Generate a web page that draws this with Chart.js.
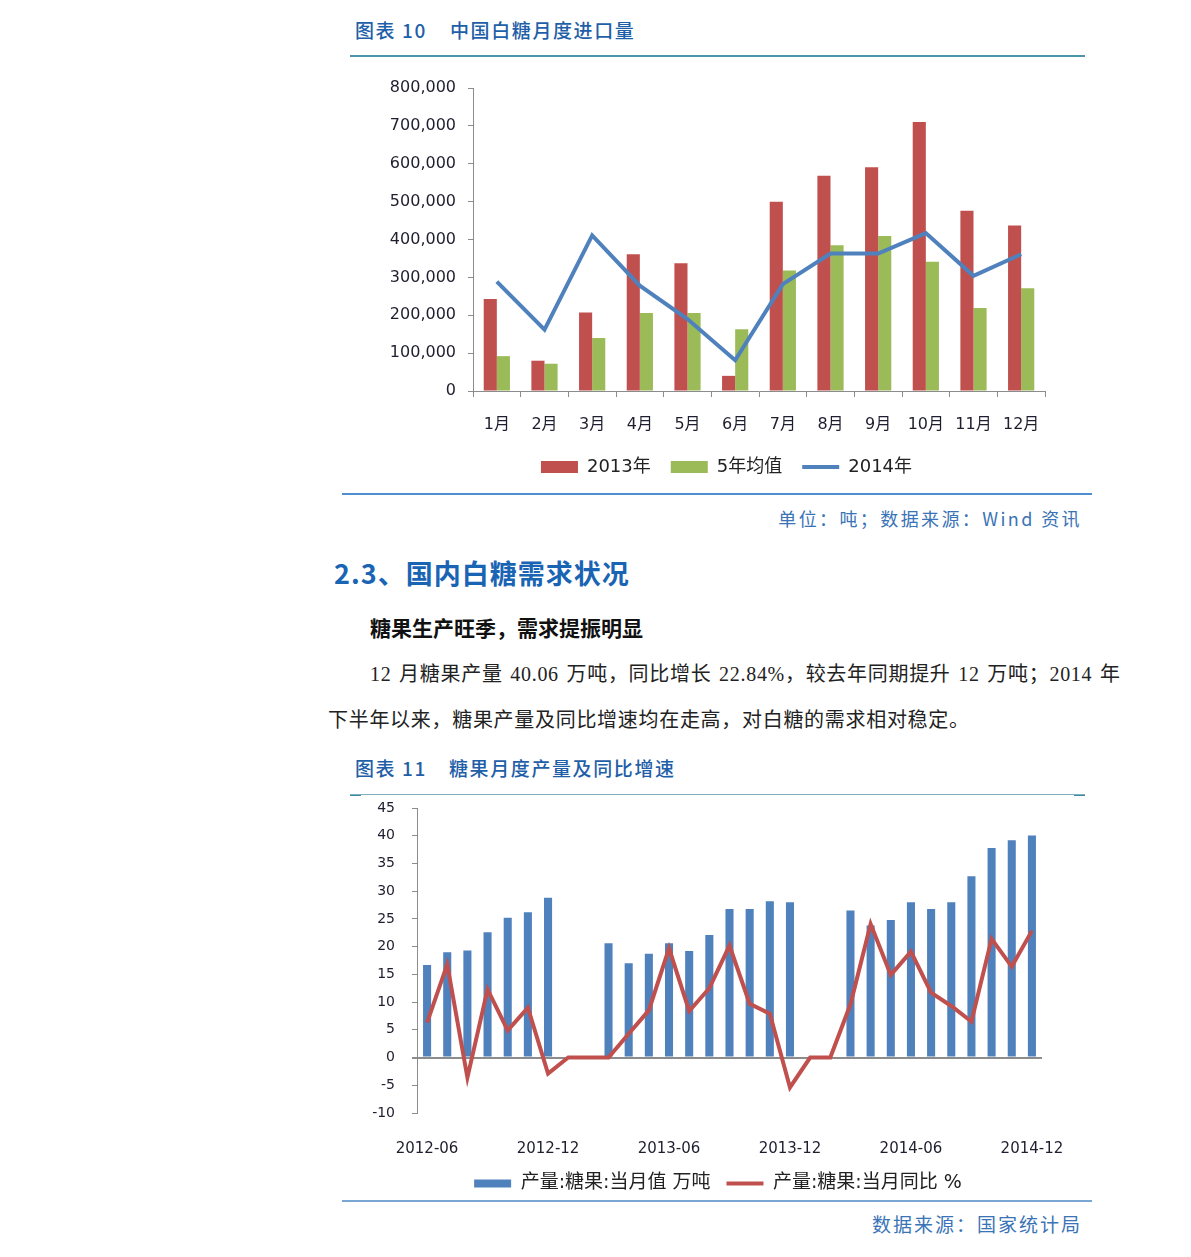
<!DOCTYPE html>
<html lang="zh">
<head>
<meta charset="utf-8">
<title>白糖进口与糖果产量</title>
<script src="https://cdn.jsdelivr.net/npm/chart.js@4.4.1/dist/chart.umd.min.js"></script>
<style>
  body {
    margin: 0;
    width: 1191px;
    height: 1257px;
    position: relative;
    overflow: hidden;
    background: #fff;
    font-family: "Noto Sans CJK SC", sans-serif;
  }
  .abs { position: absolute; white-space: nowrap; }
  .cap { color: #1f5fa8; font-size: 19px; font-weight: 500; letter-spacing: 1.6px; line-height: 24px; }
  .src { color: #3a74b6; font-size: 18px; letter-spacing: 2.4px; line-height: 22px; text-align: right; }
  .rule { position: absolute; height: 0; }
  .para { font-family: "Liberation Serif", "Noto Sans CJK SC", serif; font-size: 20px; color: #222; line-height: 26px; letter-spacing: 0.7px; }
</style>
</head>
<body>

<div class="abs cap" style="left:355px; top:18px;">图表 10</div>
<div class="abs cap" style="left:450px; top:18px;">中国白糖月度进口量</div>
<div class="rule" style="left:350px; width:735px; top:55px; border-top:2px solid #4b95ab;"></div>

<div class="abs" style="left:360px; top:70px; width:700px; height:420px;">
  <canvas id="chartImport"></canvas>
</div>

<div class="rule" style="left:342px; width:750px; top:493px; border-top:2px solid #4f8fcf;"></div>
<div class="abs src" style="right:109px; top:507px;">单位：吨；数据来源：Wind 资讯</div>

<div class="abs" style="left:334px; top:555px; font-size:27px; font-weight:700; color:#1a64b4; line-height:36px; letter-spacing:1px;">2.3、国内白糖需求状况</div>
<div class="abs" style="left:370px; top:613px; font-size:21px; font-weight:700; color:#111; line-height:28px;">糖果生产旺季，需求提振明显</div>
<div class="abs para" style="left:370px; top:661px; word-spacing:2px;">12 月糖果产量 40.06 万吨，同比增长 22.84%，较去年同期提升 12 万吨；2014 年</div>
<div class="abs para" style="left:328px; top:707px;">下半年以来，糖果产量及同比增速均在走高，对白糖的需求相对稳定。</div>

<div class="abs cap" style="left:355px; top:756px;">图表 11</div>
<div class="abs cap" style="left:449px; top:756px;">糖果月度产量及同比增速</div>
<div class="rule" style="left:350px; width:735px; top:794px; border-top:1px solid #7fb0c0;"></div>
<div class="rule" style="left:350px; width:11px; top:795px; border-top:1px solid #3d8aa0;"></div>
<div class="rule" style="left:1074px; width:11px; top:795px; border-top:1px solid #3d8aa0;"></div>

<div class="abs" style="left:360px; top:795px; width:717px; height:410px;">
  <canvas id="chartCandy"></canvas>
</div>

<div class="rule" style="left:342px; width:750px; top:1200px; border-top:2px solid #7aa6d6;"></div>
<div class="abs src" style="right:109px; top:1213px; font-size:19px; letter-spacing:2px;">数据来源：国家统计局</div>

<script>
/* chart 10: 中国白糖月度进口量 (吨) */
const importMonths = ["1月", "2月", "3月", "4月", "5月", "6月", "7月", "8月", "9月", "10月", "11月", "12月"];
const import2013 = [243000, 80000, 207000, 361000, 337000, 40000, 500000, 568000, 591000, 710000, 476000, 437000];
const import5yAvg = [92000, 72000, 140000, 206000, 206000, 163000, 318000, 385000, 409000, 341000, 219000, 271000];
const import2014 = [289000, 162000, 411000, 278000, 190000, 81000, 282000, 363000, 363000, 417000, 304000, 361000];

/* chart 11: 糖果月度产量 (万吨) 及同比 (%) */
const candyMonths = [
  "2012-06", "2012-07", "2012-08", "2012-09", "2012-10", "2012-11", "2012-12",
  "2013-01", "2013-02", "2013-03", "2013-04", "2013-05", "2013-06", "2013-07",
  "2013-08", "2013-09", "2013-10", "2013-11", "2013-12", "2014-01", "2014-02",
  "2014-03", "2014-04", "2014-05", "2014-06", "2014-07", "2014-08", "2014-09",
  "2014-10", "2014-11", "2014-12"
];
const candyOutput = [
  16.7, 19.0, 19.3, 22.6, 25.2, 26.2, 28.8,
  null, null, 20.6, 17.0, 18.7, 20.6, 19.2,
  22.1, 26.8, 26.8, 28.2, 28.0, null, null,
  26.5, 23.8, 24.8, 28.0, 26.8, 28.0, 32.7,
  37.8, 39.2, 40.06
];
const candyYoY = [
  6.3, 16.8, -3.6, 12.3, 4.9, 9.0, -2.9,
  0, 0, 0, 4.3, 8.5, 19.7, 8.4,
  12.5, 20.2, 9.7, 7.9, -5.4, 0, 0,
  9.6, 24.1, 14.9, 19.1, 11.7, 9.3, 6.5,
  21.4, 16.4, 22.84
];

const RED = "#c0504d";
const GREEN = "#9bbb59";
const BLUE = "#4f81bd";
const AXIS = "#8c8c8c";
const TICK_TEXT = "#1e1e2e";
const FONT = '"DejaVu Sans", "Noto Sans CJK SC", sans-serif';

/* no label overhang padding, the layout padding decides the plot edges */
function noOverhang(s) {
  s.paddingLeft = 0;
  s.paddingRight = 0;
  s.paddingTop = 0;
  s.paddingBottom = 0;
}

/* move the bottom legend sideways (the original legend is not centred on the canvas) */
const legendShift = {
  id: "legendShift",
  afterLayout(chart, args, opts) {
    const lg = chart.legend;
    if (!lg || !opts.dx) return;
    lg.left += opts.dx;
    lg.right += opts.dx;
  },
};

function drawImportChart() {
  const ctx = document.getElementById("chartImport");
  new Chart(ctx, {
    data: {
      labels: importMonths,
      datasets: [
        { type: "bar", label: "2013年", data: import2013, backgroundColor: RED, order: 2, pointStyle: "rect" },
        { type: "bar", label: "5年均值", data: import5yAvg, backgroundColor: GREEN, order: 2, pointStyle: "rect" },
        {
          type: "line", label: "2014年", data: import2014,
          borderColor: BLUE, backgroundColor: BLUE, borderWidth: 4,
          pointRadius: 0, tension: 0, order: 1, pointStyle: "line",
        },
      ],
    },
    plugins: [legendShift],
    options: {
      responsive: true,
      maintainAspectRatio: false,
      animation: false,
      layout: { padding: { top: 18, right: 15, bottom: 4, left: 0 } },
      datasets: { bar: { categoryPercentage: 0.55, barPercentage: 1.0 } },
      scales: {
        x: {
          grid: { display: true, offset: true, drawOnChartArea: false, tickLength: 6, color: AXIS },
          border: { color: AXIS },
          ticks: { color: TICK_TEXT, font: { family: FONT, size: 16 }, padding: 18, maxRotation: 0 },
          afterFit: (s) => { s.height = 47; noOverhang(s); },
        },
        y: {
          min: 0, max: 800000,
          ticks: {
            stepSize: 100000, color: TICK_TEXT, padding: 12,
            font: { family: FONT, size: 16 },
            callback: (v) => v.toLocaleString("en-US"),
          },
          grid: { drawOnChartArea: false, tickLength: 5, color: AXIS },
          border: { color: AXIS },
          afterFit: (s) => { s.width = 113; noOverhang(s); },
        },
      },
      plugins: {
        tooltip: { enabled: false },
        legendShift: { dx: 24 },
        legend: {
          position: "bottom",
          labels: {
            usePointStyle: true, pointStyleWidth: 37, boxHeight: 12,
            color: "#222", padding: 20,
            font: { family: FONT, size: 18 },
            sort: (a, b) => a.datasetIndex - b.datasetIndex,
          },
        },
      },
    },
  });
}

function drawCandyChart() {
  const ctx = document.getElementById("chartCandy");
  new Chart(ctx, {
    data: {
      labels: candyMonths,
      datasets: [
        {
          type: "bar", label: "产量:糖果:当月值 万吨", data: candyOutput,
          backgroundColor: BLUE, order: 2, pointStyle: "rect",
          categoryPercentage: 0.8, barPercentage: 0.5,
        },
        {
          type: "line", label: "产量:糖果:当月同比 %", data: candyYoY,
          borderColor: RED, backgroundColor: RED, borderWidth: 4,
          pointRadius: 0, tension: 0, order: 1, pointStyle: "line",
        },
      ],
    },
    plugins: [legendShift],
    options: {
      responsive: true,
      maintainAspectRatio: false,
      animation: false,
      layout: { padding: { top: 13, right: 35, bottom: 2, left: 0 } },
      scales: {
        x: {
          grid: { display: false, drawTicks: false },
          border: { display: false },
          ticks: {
            autoSkip: false, maxRotation: 0, color: TICK_TEXT, padding: 27,
            font: { family: FONT, size: 15 },
            callback: (v, i) => (i % 6 === 0 ? candyMonths[i] : null),
          },
          afterFit: (s) => { s.height = 45; noOverhang(s); },
        },
        y: {
          min: -10, max: 45,
          ticks: { stepSize: 5, color: TICK_TEXT, padding: 17, font: { family: FONT, size: 14 } },
          grid: {
            drawOnChartArea: true, tickLength: 5, tickColor: AXIS,
            color: (c) => (c.tick && c.tick.value === 0 ? AXIS : "rgba(0,0,0,0)"),
            lineWidth: (c) => (c.tick && c.tick.value === 0 ? 2 : 1),
          },
          border: { color: AXIS },
          afterFit: (s) => { s.width = 57; noOverhang(s); },
        },
      },
      plugins: {
        tooltip: { enabled: false },
        legendShift: { dx: 17 },
        legend: {
          position: "bottom",
          labels: {
            usePointStyle: true, pointStyleWidth: 37, boxHeight: 8,
            color: "#222", padding: 16,
            font: { family: FONT, size: 19 },
            sort: (a, b) => a.datasetIndex - b.datasetIndex,
          },
        },
      },
    },
  });
}

function ready(fn) {
  if (document.readyState !== "loading") fn();
  else document.addEventListener("DOMContentLoaded", fn);
}

ready(() => {
  if (typeof Chart === "undefined") {
    console.error("Chart.js not loaded");
    return;
  }
  drawImportChart();
  drawCandyChart();
});
</script>
</body>
</html>
